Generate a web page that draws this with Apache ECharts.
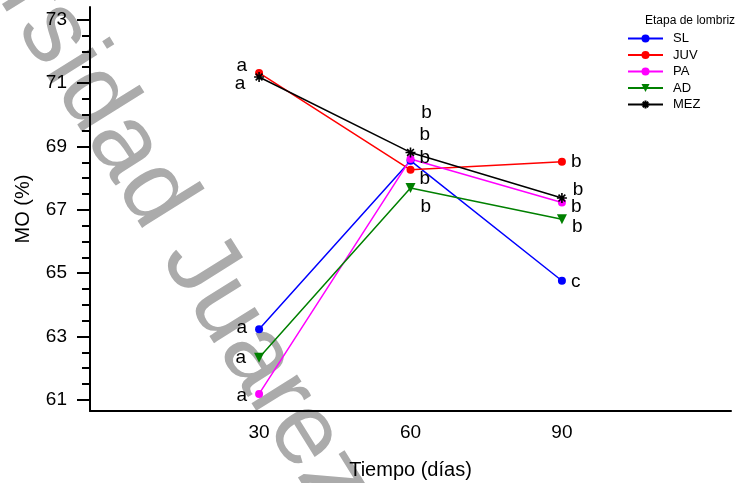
<!DOCTYPE html>
<html>
<head>
<meta charset="utf-8">
<script src="https://cdn.jsdelivr.net/npm/echarts@6/dist/echarts.min.js"></script>
<style>html,body{margin:0;padding:0;background:#fff}#c{width:739px;height:483px}</style>
</head>
<body>
<div id="c"></div>
<script>
// ---- data ----
var days = [30, 60, 90];
var xTickLabels = [30, 60, 90];
var yTickLabels = [61, 63, 65, 67, 69, 71, 73];
var yMinorTicks = [61, 61.5, 62, 62.5, 63, 63.5, 64, 64.5, 65, 65.5, 66, 66.5, 67, 67.5, 68, 68.5, 69, 69.5, 70, 70.5, 71, 71.5, 72, 72.5, 73];
var seriesNames = ['SL', 'JUV', 'PA', 'AD', 'MEZ'];
var SL  = [63.23, 68.55, 64.76];
var JUV = [71.32, 68.26, 68.52];
var PA  = [61.19, 68.60, 67.23];
var AD  = [62.33, 67.69, 66.70];
var MEZ = [71.19, 68.81, 67.37];
var SL_letters  = ['a', 'b', 'c'];
var JUV_letters = ['a', 'b', 'b'];
var PA_letters  = ['a', 'b', 'b'];
var AD_letters  = ['a', 'b', 'b'];
var MEZ_letters = ['a', 'b', 'b'];
var legendTitle = 'Etapa de lombriz';
var xName = 'Tiempo (días)';
var yName = 'MO (%)';
var watermark = 'Universidad Juarez';

// ---- styling / layout (not data) ----
var FONT = 'Liberation Sans, Arial, sans-serif';
var styles = {
  SL:  {color: '#0000FF', symbol: 'circle', size: 8, rotate: 0},
  JUV: {color: '#FF0000', symbol: 'circle', size: 8, rotate: 0},
  PA:  {color: '#FF00FF', symbol: 'circle', size: 8, rotate: 0},
  AD:  {color: '#008000', symbol: 'triangle', size: 10, rotate: 180},
  MEZ: {color: '#000000', symbol: 'path://M5,0L5,10M0,5L10,5M1.6,1.6L8.4,8.4M1.6,8.4L8.4,1.6', size: 10, rotate: 0}
};
// vertical nudges of the significance letters (px)
var letterNudge = {
  SL:  [-1, -3, 1],
  JUV: [-7, 9, 0],
  PA:  [2, -24, 4],
  AD:  [0, 19, 7],
  MEZ: [7, -40, -8]
};
var values = {SL: SL, JUV: JUV, PA: PA, AD: AD, MEZ: MEZ};
var letters = {SL: SL_letters, JUV: JUV_letters, PA: PA_letters, AD: AD_letters, MEZ: MEZ_letters};

var series = seriesNames.map(function (n) {
  var st = styles[n];
  return {
    name: n,
    type: 'line',
    data: days.map(function (d, i) {
      return {
        value: [d, values[n][i]],
        label: {
          show: true,
          position: i === 0 ? 'left' : 'right',
          distance: i === 0 ? 8 : 5,
          offset: [0, letterNudge[n][i]],
          formatter: letters[n][i],
          color: '#000',
          fontSize: 19,
          fontFamily: FONT
        }
      };
    }),
    symbol: st.symbol,
    symbolSize: st.size,
    symbolRotate: st.rotate,
    showSymbol: true,
    lineStyle: {color: st.color, width: 1.5},
    itemStyle: n === 'MEZ' ? {color: st.color, borderColor: st.color, borderWidth: 1.6} : {color: st.color, borderWidth: 0},
    emphasis: {disabled: true},
    z: 3
  };
});

var chart = echarts.init(document.getElementById('c'), null, {renderer: 'canvas'});
chart.setOption({
  animation: false,
  backgroundColor: '#fff',
  textStyle: {fontFamily: FONT},
  graphic: [{
    type: 'text',
    x: -116, y: -238,
    rotation: -58 * Math.PI / 180,
    z: -10,
    silent: true,
    style: {
      text: watermark,
      fontSize: 102,
      fontFamily: FONT,
      fill: '#ABABAB',
      textAlign: 'left',
      textVerticalAlign: 'middle'
    }
  }],
  title: {
    text: legendTitle,
    left: 645, top: 15,
    padding: 0,
    textStyle: {fontSize: 12, fontWeight: 'normal', color: '#000', fontFamily: FONT}
  },
  legend: {
    orient: 'vertical',
    left: 627, top: 32,
    padding: 0,
    itemWidth: 35, itemHeight: 10, itemGap: 3.5,
    data: seriesNames,
    textStyle: {fontSize: 13, color: '#000', fontFamily: FONT, padding: [0, 0, 0, 5]},
    selectedMode: false
  },
  grid: {left: 90, right: 8, top: 7, bottom: 72, containLabel: false, outerBoundsMode: 'none'},
  xAxis: {
    type: 'value',
    min: -3.5, max: 123.5,
    name: xName,
    nameLocation: 'middle',
    nameGap: 49,
    nameMoveOverlap: false,
    nameTextStyle: {fontSize: 20, color: '#000', fontFamily: FONT},
    axisLine: {show: true, onZero: false, lineStyle: {color: '#000', width: 2}},
    axisTick: {show: false},
    splitLine: {show: false},
    axisLabel: {customValues: xTickLabels, fontSize: 19, color: '#000', margin: 12, fontFamily: FONT}
  },
  yAxis: [{
    type: 'value',
    min: 60.65, max: 73.4,
    name: yName,
    nameLocation: 'middle',
    nameGap: 57,
    nameMoveOverlap: false,
    nameTextStyle: {fontSize: 20, color: '#000', fontFamily: FONT},
    axisLine: {show: true, onZero: false, lineStyle: {color: '#000', width: 2}},
    axisTick: {show: false},
    splitLine: {show: false},
    axisLabel: {customValues: yTickLabels, fontSize: 19, color: '#000', margin: 23, fontFamily: FONT}
  }, {
    type: 'value',
    position: 'left',
    min: 60.65, max: 73.4,
    axisLine: {show: false, onZero: false},
    axisTick: {show: true, customValues: yMinorTicks, length: 8, lineStyle: {color: '#000', width: 2}},
    splitLine: {show: false},
    axisLabel: {show: false}
  }, {
    type: 'value',
    position: 'left',
    min: 60.65, max: 73.4,
    axisLine: {show: false, onZero: false},
    axisTick: {show: true, customValues: yTickLabels, length: 13, lineStyle: {color: '#000', width: 2}},
    splitLine: {show: false},
    axisLabel: {show: false}
  }],
  series: series
});
</script>
</body>
</html>
